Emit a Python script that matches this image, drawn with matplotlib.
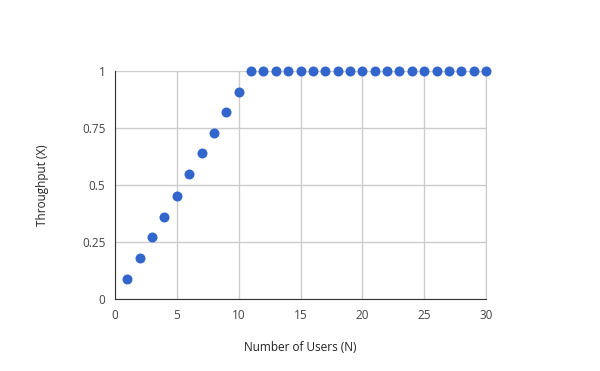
import matplotlib.pyplot as plt

users = list(range(1, 31))
throughput = [0.09, 0.18, 0.27, 0.36, 0.45, 0.55, 0.64, 0.73, 0.82, 0.91] + [1.0] * 20

xticks = [0, 5, 10, 15, 20, 25, 30]
yticks = [0, 0.25, 0.5, 0.75, 1]
ytick_labels = ['0', '0.25', '0.5', '0.75', '1']

plt.rcParams['font.family'] = ['Open Sans', 'DejaVu Sans']

fig = plt.figure(figsize=(6, 3.71), dpi=100)
ax = fig.add_axes([0.1917, 0.194, 0.6183, 0.6146])

ax.scatter(users, throughput, s=52, color='#3366cc', zorder=3, clip_on=False, linewidths=0)

ax.set_xlim(0, 30)
ax.set_ylim(0, 1)
ax.set_xticks(xticks)
ax.set_yticks(yticks)
ax.set_yticklabels(ytick_labels)
ax.grid(True, color='#cccccc', linewidth=1)
ax.set_axisbelow(True)

ax.spines['top'].set_visible(False)
ax.spines['right'].set_color('#cccccc')
ax.spines['left'].set_color('#333333')
ax.spines['bottom'].set_color('#333333')
ax.tick_params(length=0, labelsize=8.5, colors='#444444', pad=7)

ax.set_xlabel('Number of Users (N)', fontsize=8.5, color='#222222', labelpad=14)
ax.set_ylabel('Throughput (X)', fontsize=8.5, color='#222222', labelpad=24)

fig.savefig('out.png')
